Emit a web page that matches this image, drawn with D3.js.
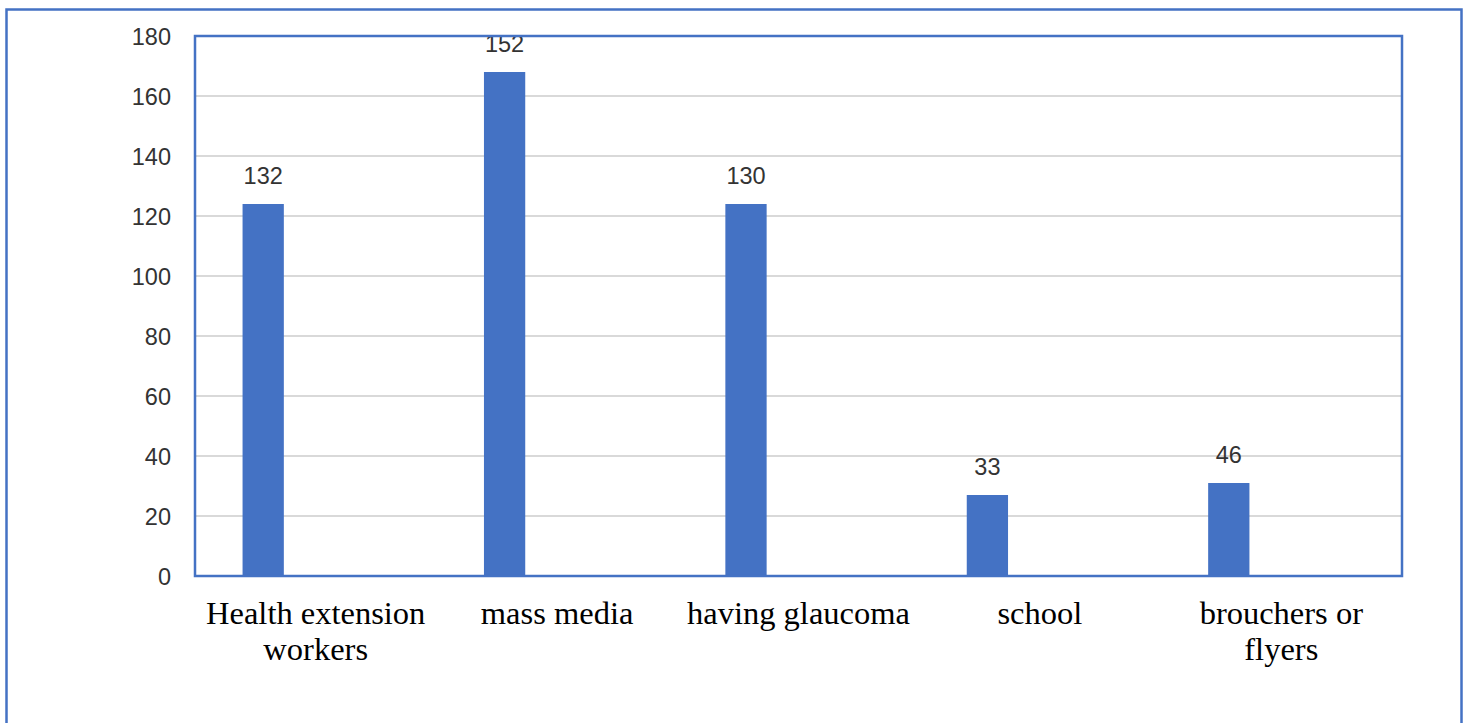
<!DOCTYPE html>
<meta charset="utf-8">
<html>
<head>
    <title>Sources of information</title>
    <script src="https://d3js.org/d3.v7.min.js"></script>
</head>

<style>
    body { margin: 0; background: white; }
    .tick text { font: 23.5px "Liberation Sans", Arial, sans-serif; fill: #333333; }
</style>

<body>
<div id="chartdiv"></div>

<script>

// chart data
var categories = ["Health extension\nworkers", "mass media", "having glaucoma", "school", "brouchers or\nflyers"];
var barValues = [124, 168, 124, 27, 31];
var labelTexts = ["132", "152", "130", "33", "46"];
var yTicks = [0, 20, 40, 60, 80, 100, 120, 140, 160, 180];

// sizes
const screenWd = 1468;
const screenHt = 723;
const plotL = 195, plotR = 1402, plotT = 36, plotB = 576;
const colorBlue = "#4472C4";
const colorGrid = "#d9d9d9";

const svg = d3.select("#chartdiv")
    .append("svg")
    .attr("width", screenWd)
    .attr("height", screenHt);

// outer frame
svg.append("rect")
    .attr("x", 6.5)
    .attr("y", 9.5)
    .attr("width", 1455)
    .attr("height", 760)
    .attr("fill", "none")
    .attr("stroke", colorBlue)
    .attr("stroke-width", 2.5);

// scales
var scaleX = d3.scaleBand()
    .domain(categories)
    .range([plotL, plotR])
    .padding(0);

var scaleY = d3.scaleLinear()
    .domain([0, 180])
    .range([plotB, plotT]);

var bw = scaleX.bandwidth();

// gridlines
svg.append("g")
    .selectAll("line")
    .data(yTicks)
    .enter()
    .append("line")
    .attr("x1", plotL)
    .attr("x2", plotR)
    .attr("y1", d => scaleY(d))
    .attr("y2", d => scaleY(d))
    .attr("stroke", colorGrid)
    .attr("stroke-width", 2);

// y axis labels
var axisY = svg.append("g")
    .attr("transform", "translate(" + (plotL - 24) + ",0)")
    .call(d3.axisLeft(scaleY).tickValues(yTicks).tickSize(0).tickPadding(0));
axisY.select(".domain").remove();
axisY.selectAll(".tick text").attr("dy", "0.36em");

// bars
svg.append("g")
    .selectAll("rect")
    .data(barValues)
    .enter()
    .append("rect")
    .attr("x", (d, i) => scaleX(categories[i]) + bw * 0.197)
    .attr("y", d => scaleY(d))
    .attr("width", bw * 0.171)
    .attr("height", d => scaleY(0) - scaleY(d))
    .attr("fill", colorBlue);

// data labels
svg.append("g")
    .selectAll("text")
    .data(barValues)
    .enter()
    .append("text")
    .attr("x", (d, i) => scaleX(categories[i]) + bw * 0.197 + bw * 0.171 / 2)
    .attr("y", d => scaleY(d) - 20)
    .attr("text-anchor", "middle")
    .style("font", '23.5px "Liberation Sans", Arial, sans-serif')
    .style("fill", "#333333")
    .text((d, i) => labelTexts[i]);

// plot border
svg.append("rect")
    .attr("x", plotL)
    .attr("y", plotT)
    .attr("width", plotR - plotL)
    .attr("height", plotB - plotT)
    .attr("fill", "none")
    .attr("stroke", colorBlue)
    .attr("stroke-width", 2.5);

// category labels
var catLabels = svg.append("g")
    .selectAll("text")
    .data(categories)
    .enter()
    .append("text")
    .attr("x", d => scaleX(d) + bw / 2)
    .attr("y", 624)
    .attr("text-anchor", "middle")
    .style("font", '32.5px "Liberation Serif", "Times New Roman", serif')
    .style("fill", "black");

catLabels.selectAll("tspan")
    .data(d => d.split("\n"))
    .enter()
    .append("tspan")
    .attr("x", function() { return d3.select(this.parentNode).attr("x"); })
    .attr("dy", (d, i) => i === 0 ? 0 : 36)
    .text(d => d);

</script>
</body>
</html>
